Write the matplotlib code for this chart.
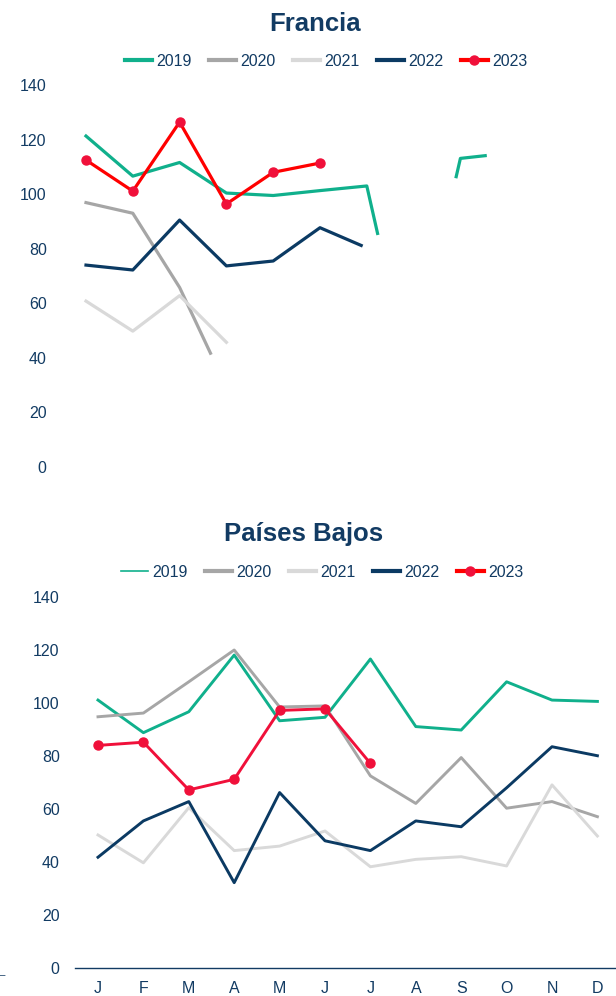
import matplotlib.pyplot as plt
from matplotlib.lines import Line2D

plt.rcParams["font.family"] = ["Liberation Sans", "DejaVu Sans"]

MONTHS = ["J", "F", "M", "A", "M", "J", "J", "A", "S", "O", "N", "D"]
YEARS = ["2019", "2020", "2021", "2022", "2023"]

# Francia (chart caught mid-draw: some series stop part-way between months)
fr_2019_x = [0, 1, 2, 3, 4, 5, 6, 6.23]
fr_2019_y = [121.3, 106.6, 111.6, 100.4, 99.5, 101.3, 103.0, 85.6]
fr_2019b_x = [7.91, 8, 8.53]
fr_2019b_y = [106.4, 113.1, 114.1]
fr_2020_x = [0, 1, 2, 2.66]
fr_2020_y = [96.9, 93.0, 65.8, 41.7]
fr_2021_x = [0, 1, 2, 3]
fr_2021_y = [60.8, 49.8, 62.8, 45.7]
fr_2022_x = [0, 1, 2, 3, 4, 5, 5.88]
fr_2022_y = [74.0, 72.2, 90.5, 73.7, 75.5, 87.7, 81.2]
fr_2023_x = [0, 1, 2, 3, 4, 5]
fr_2023_y = [112.5, 101.1, 126.4, 96.4, 108.0, 111.4]

# Países Bajos
nl_2019 = [101.1, 88.8, 96.7, 118.1, 93.3, 94.6, 116.6, 91.1, 89.8, 108.0, 101.1, 100.6]
nl_2020 = [94.8, 96.2, 108.0, 120.0, 98.5, 98.9, 72.5, 62.1, 79.4, 60.3, 62.8, 57.1]
nl_2021 = [50.2, 39.7, 60.5, 44.3, 46.0, 51.7, 38.2, 41.0, 42.0, 38.5, 69.1, 49.8]
nl_2022 = [41.8, 55.5, 62.8, 32.2, 66.2, 48.0, 44.3, 55.5, 53.3, 68.0, 83.5, 80.1]
nl_2023 = [84.0, 85.2, 67.2, 71.2, 97.2, 97.8, 77.2]

C19, C20, C21, C22, C23 = "#10B08C", "#A6A6A6", "#D9D9D9", "#0B3A63", "#FF0000"
NAVY = "#123B63"
RED_MK = "#F0103A"
FS = 11.5

W, H = 616, 996
fig = plt.figure(figsize=(W / 100, H / 100), dpi=100)


def px_axes(left, top, right, bottom):
    return fig.add_axes([left / W, 1 - bottom / H, (right - left) / W, (bottom - top) / H])


def style_axes(ax, pad):
    ax.set_ylim(0, 140)
    ax.set_yticks(range(0, 141, 20))
    for s in ax.spines.values():
        s.set_visible(False)
    ax.tick_params(axis="y", length=0, pad=pad, labelsize=FS, labelcolor=NAVY)


def add_legend(x_px, y_px, lw19):
    handles = [
        Line2D([], [], color=C19, lw=lw19),
        Line2D([], [], color=C20, lw=3),
        Line2D([], [], color=C21, lw=3),
        Line2D([], [], color=C22, lw=3),
        Line2D([], [], color=C23, lw=3, marker="o", markersize=6.5,
               markerfacecolor=RED_MK, markeredgecolor=RED_MK),
    ]
    leg = fig.legend(handles, YEARS, loc="center", bbox_to_anchor=(x_px / W, 1 - y_px / H),
                     ncol=5, frameon=False, fontsize=FS, handlelength=1.7,
                     handletextpad=0.25, columnspacing=1.1, borderaxespad=0, borderpad=0)
    for t in leg.get_texts():
        t.set_color(NAVY)


# --- Francia ---
ax1 = px_axes(62, 85, 616, 467)
ax1.set_xlim(-(86 - 62) / 46.8, (616 - 86) / 46.8)
style_axes(ax1, 11)
ax1.set_xticks([])
lw = 2.3
ax1.plot(fr_2019_x, fr_2019_y, color=C19, lw=lw)
ax1.plot(fr_2019b_x, fr_2019b_y, color=C19, lw=lw)
ax1.plot(fr_2020_x, fr_2020_y, color=C20, lw=lw)
ax1.plot(fr_2021_x, fr_2021_y, color=C21, lw=lw)
ax1.plot(fr_2022_x, fr_2022_y, color=C22, lw=lw)
ax1.plot(fr_2023_x, fr_2023_y, color=C23, lw=lw, marker="o", markersize=6.5,
         markerfacecolor=RED_MK, markeredgecolor=RED_MK)
fig.text(315 / W, 1 - 31 / H, "Francia", ha="center", va="baseline", fontsize=18.5,
         fontweight="bold", color=NAVY)
add_legend(326, 61, 3)

# --- Países Bajos ---
ax2 = px_axes(75, 597, 616, 968)
ax2.set_xlim(-(98 - 75) / 45.4, (616 - 98) / 45.4)
style_axes(ax2, 11)
ax2.spines["bottom"].set_visible(True)
ax2.spines["bottom"].set_color(NAVY)
ax2.spines["bottom"].set_linewidth(1)
ax2.set_xticks(range(12))
ax2.set_xticklabels(MONTHS)
ax2.tick_params(axis="x", length=0, pad=9, labelsize=FS, labelcolor=NAVY)
lw = 2.1
x = list(range(12))
ax2.plot(x, nl_2019, color=C19, lw=lw)
ax2.plot(x, nl_2020, color=C20, lw=lw)
ax2.plot(x, nl_2021, color=C21, lw=lw)
ax2.plot(x, nl_2022, color=C22, lw=lw)
ax2.plot(x[:len(nl_2023)], nl_2023, color=RED_MK, lw=lw, marker="o", markersize=6.5)
fig.text(304 / W, 1 - 541 / H, "Países Bajos", ha="center", va="baseline", fontsize=18.5,
         fontweight="bold", color=NAVY)
add_legend(322, 572, 1.2)

fig.text(0.0, 1 - 975 / H, "–", ha="left", va="center", fontsize=7, color=NAVY)

fig.savefig("out.png", dpi=100)
